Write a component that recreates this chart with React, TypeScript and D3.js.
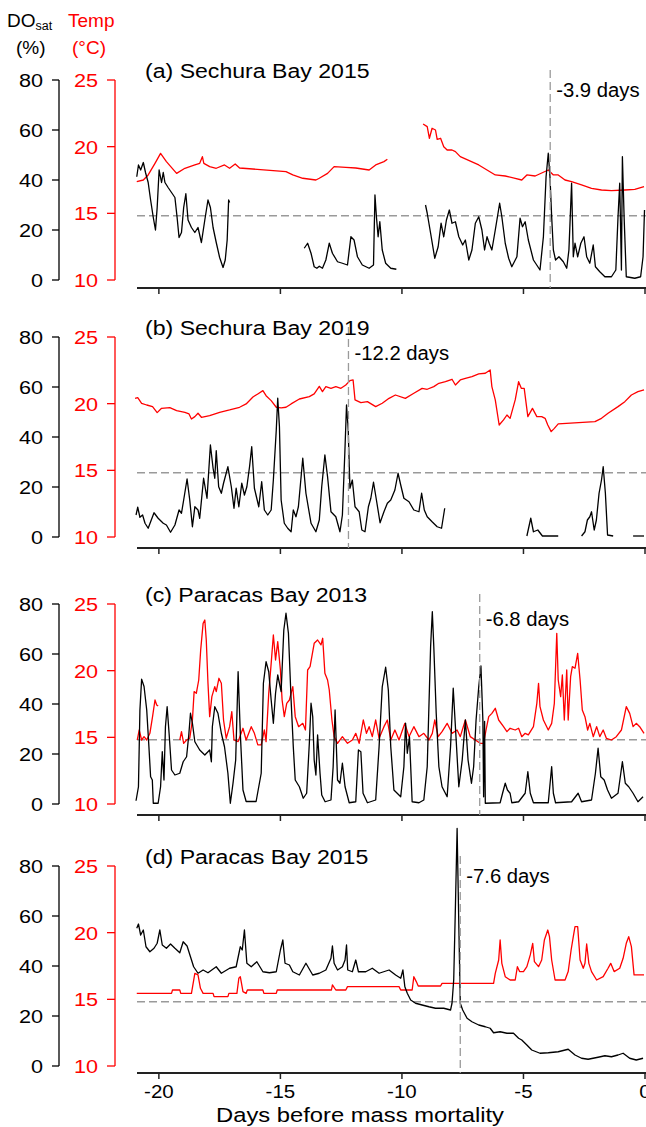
import * as d3 from "d3";

type Pt = [number, number];
type Seg = Pt[];

// ---- axis ticks / labels ----
const DAY_TICKS = [-20, -15, -10, -5, 0];
const DO_TICKS = [0, 20, 40, 60, 80];
const TEMP_TICKS = [10, 15, 20, 25];
const DO_THRESHOLD = 25.7;

const TITLES = [
  "(a) Sechura Bay 2015",
  "(b) Sechura Bay 2019",
  "(c) Paracas Bay 2013",
  "(d) Paracas Bay 2015",
];
const EVENT_DAYS = [-3.9, -12.2, -6.8, -7.6];
const EVENT_LABELS = ["-3.9 days", "-12.2 days", "-6.8 days", "-7.6 days"];

// ---- (a) Sechura Bay 2015 ----
const doA: Seg[] = [
  [[-20.91,41.3],[-20.84,46],[-20.75,44],[-20.64,47],[-20.55,43],[-20.44,39],[-20.34,32],[-20.23,25],[-20.14,20],[-20.07,29],[-19.99,44],[-19.89,39],[-19.82,43],[-19.75,39],[-19.62,37],[-19.48,35],[-19.34,33],[-19.25,25],[-19.17,17],[-19.07,19],[-18.98,29],[-18.89,34.5],[-18.8,24],[-18.66,21],[-18.52,19],[-18.39,21],[-18.25,15],[-18.11,24],[-17.98,32],[-17.88,29],[-17.77,21],[-17.64,15],[-17.5,9],[-17.36,5],[-17.27,8],[-17.19,16],[-17.13,32],[-17.09,31]],
  [[-14.02,12.7],[-13.88,14.7],[-13.74,10.7],[-13.61,5.3],[-13.5,4.7],[-13.4,5.5],[-13.27,4.7],[-13.13,8],[-12.99,14.7],[-12.86,10.7],[-12.65,7.3],[-12.45,6.7],[-12.24,6],[-12.1,17.3],[-11.97,16],[-11.83,9.3],[-11.63,6],[-11.35,4.7],[-11.17,6],[-11.11,34],[-11.05,25.3],[-10.98,17.3],[-10.91,23.3],[-10.81,12],[-10.67,6.7],[-10.46,4.7],[-10.23,4.3]],
  [[-9.03,30],[-8.96,26.7],[-8.82,18.7],[-8.65,8.7],[-8.51,13.3],[-8.39,22.7],[-8.28,17.3],[-8.17,24],[-8.05,28],[-7.94,22.7],[-7.8,23.3],[-7.66,17.3],[-7.5,14],[-7.39,16],[-7.25,8],[-7.12,12],[-6.98,22.7],[-6.84,25.3],[-6.71,20],[-6.6,12],[-6.5,17.3],[-6.41,14.7],[-6.3,12],[-6.16,20],[-5.98,30.7],[-5.89,25.3],[-5.75,14.7],[-5.61,8.7],[-5.48,5.3],[-5.27,9.3],[-5.14,24.7],[-5.04,21.3],[-4.93,23.3],[-4.8,16],[-4.59,8],[-4.32,4],[-4.18,17.3],[-4.07,41.3],[-3.98,50.7],[-3.91,41.3],[-3.84,25.3],[-3.77,12],[-3.68,8],[-3.54,9.3],[-3.36,7.3],[-3.22,4.7],[-3.13,12],[-3.02,38.7],[-2.95,9.3],[-2.88,14.7],[-2.77,9.3],[-2.64,14.7],[-2.51,17.3],[-2.4,9.3],[-2.27,6.7],[-2.13,14],[-2.04,5.3],[-1.86,3.3],[-1.65,1.3],[-1.38,1.3],[-1.2,4],[-1.11,25.3],[-1.04,38.7],[-0.97,4],[-0.93,49.3],[-0.86,25.3],[-0.77,1.3],[-0.42,0.7],[-0.18,1.3],[-0.08,9.3],[-0.02,28]],
];
const tempA: Seg[] = [
  [[-20.91,17.37],[-20.64,17.5],[-20.44,17.88],[-20.16,18.75],[-19.93,19.5],[-19.69,18.88],[-19.27,18.0],[-18.93,18.38],[-18.52,18.63],[-18.32,18.75],[-18.21,19.25],[-18.15,18.75],[-17.91,18.5],[-17.64,18.38],[-17.3,18.63],[-17.09,18.38],[-16.86,18.7],[-16.68,18.4],[-14.77,18.13],[-14.49,17.88],[-14.08,17.63],[-13.54,17.5],[-13.4,17.63],[-13.06,18.0],[-12.79,18.5],[-12.31,18.45],[-11.9,18.4],[-11.35,18.25],[-11.08,18.63],[-10.74,18.88],[-10.6,19.05]],
  [[-9.13,21.7],[-8.96,21.5],[-8.87,20.63],[-8.76,21.38],[-8.62,21.25],[-8.55,20.55],[-8.41,20.63],[-8.28,20.0],[-8.14,19.75],[-7.94,19.75],[-7.8,19.63],[-7.6,19.25],[-6.84,18.63],[-6.16,17.88],[-5.75,17.8],[-5.34,17.63],[-5.07,17.5],[-4.86,17.88],[-4.52,17.8],[-3.98,18.25],[-3.77,17.88],[-3.57,17.88],[-3.29,17.5],[-3.02,17.38],[-2.61,17.13],[-2.2,16.88],[-1.79,16.75],[-1.38,16.7],[-0.83,16.75],[-0.42,16.8],[-0.04,17.0]],
];

// ---- (b) Sechura Bay 2019 ----
const doB: Seg[] = [
  [[-20.94,8.8],[-20.87,11.9],[-20.78,7.9],[-20.67,8.8],[-20.57,5.5],[-20.44,3.5],[-20.2,9.7],[-20.03,7.5],[-19.82,5.5],[-19.69,4.8],[-19.52,1.9],[-19.34,4.8],[-19.17,10.8],[-19.07,9.5],[-18.98,14.8],[-18.84,23.2],[-18.73,14.8],[-18.62,4.1],[-18.52,12.1],[-18.39,10.8],[-18.32,7.5],[-18.16,23.5],[-18.02,15.5],[-17.88,36.8],[-17.77,27.5],[-17.7,23.5],[-17.64,34.5],[-17.54,20.1],[-17.43,17.5],[-17.34,21.5],[-17.16,28.1],[-17.02,20.1],[-16.91,11.5],[-16.82,19.5],[-16.71,12.1],[-16.59,21.5],[-16.48,16.8],[-16.38,20.1],[-16.27,28.1],[-16.18,36.1],[-16.07,19.5],[-15.89,12.1],[-15.77,22.1],[-15.66,10.8],[-15.52,8.8],[-15.38,10.8],[-15.29,22.8],[-15.17,42.8],[-15.11,55.5],[-15.04,44.1],[-14.97,14.8],[-14.84,5.5],[-14.7,3.5],[-14.56,2.1],[-14.47,10.8],[-14.36,8.1],[-14.26,12.1],[-14.08,31.5],[-13.95,17.5],[-13.74,5.5],[-13.54,2.1],[-13.4,6.8],[-13.3,20.1],[-13.17,32.8],[-13.06,24.1],[-12.92,10.1],[-12.72,8.1],[-12.55,2.1],[-12.45,8.8],[-12.35,33.5],[-12.28,52.8],[-12.21,42.8],[-12.14,19.5],[-12.04,22.8],[-11.93,12.1],[-11.76,10.1],[-11.65,2.8],[-11.52,2.1],[-11.38,12.1],[-11.28,15.5],[-11.17,21.9],[-11.05,14.8],[-10.9,5.7],[-10.74,10.1],[-10.6,13.5],[-10.46,14.8],[-10.29,18.8],[-10.16,25.5],[-10.05,20.8],[-9.92,15.5],[-9.71,14.1],[-9.51,10.8],[-9.3,10.1],[-9.19,17.5],[-9.08,10.8],[-8.96,8.1],[-8.76,6.1],[-8.55,4.1],[-8.37,3.5],[-8.24,11.5]],
  [[-4.86,0.4],[-4.7,7.5],[-4.59,2.1],[-4.41,2.8],[-4.22,0.4],[-3.57,0.4]],
  [[-2.61,0.4],[-2.47,2.1],[-2.37,6.8],[-2.27,8.1],[-2.2,10.1],[-2.09,2.8],[-2.0,6.8],[-1.89,17.5],[-1.79,22.8],[-1.72,28.1],[-1.63,17.5],[-1.54,0.8],[-1.31,0.4]],
  [[-0.49,0.4],[-0.04,0.4]],
];
const tempB: Seg[] = [
  [[-20.98,20.4],[-20.87,20.46],[-20.71,20.03],[-20.5,19.9],[-20.26,19.78],[-20.07,19.33],[-19.89,19.65],[-19.55,19.7],[-19.27,19.48],[-18.93,19.35],[-18.76,19.23],[-18.66,18.85],[-18.52,19.03],[-18.39,19.28],[-18.25,18.98],[-17.91,19.1],[-17.5,19.35],[-17.09,19.53],[-16.68,19.73],[-16.41,19.98],[-16.13,20.5],[-15.93,20.73],[-15.72,20.98],[-15.59,20.6],[-15.38,20.23],[-15.17,19.73],[-14.97,19.68],[-14.77,19.73],[-14.56,19.98],[-14.22,20.35],[-13.81,20.53],[-13.61,20.73],[-13.4,21.3],[-13.27,20.9],[-13.13,21.27],[-12.92,21.15],[-12.72,21.27],[-12.51,21.15],[-12.31,21.4],[-12.14,21.73],[-12.01,21.78],[-11.93,20.28],[-11.69,20.08],[-11.42,20.15],[-11.08,19.78],[-10.81,20.03],[-10.53,20.4],[-10.27,20.65],[-9.86,20.4],[-9.51,20.78],[-9.17,21.15],[-8.96,21.08],[-8.69,21.28],[-8.48,21.53],[-8.21,21.65],[-7.94,21.83],[-7.8,21.4],[-7.6,21.78],[-7.39,21.9],[-7.12,22.03],[-6.84,22.23],[-6.57,22.28],[-6.37,22.53],[-6.3,21.28],[-6.16,20.28],[-6.0,18.4],[-5.82,18.78],[-5.68,19.15],[-5.55,18.9],[-5.34,20.28],[-5.2,21.65],[-5.09,21.15],[-4.97,21.15],[-4.82,19.03],[-4.63,19.65],[-4.45,19.03],[-4.25,19.03],[-4.11,18.9],[-4.0,18.4],[-3.86,17.9],[-3.73,18.15],[-3.57,18.48],[-2.06,18.65],[-1.79,18.9],[-1.52,19.28],[-1.11,19.78],[-0.83,20.15],[-0.56,20.65],[-0.29,20.9],[-0.04,21.03]],
];

// ---- (c) Paracas Bay 2013 ----
const doC: Seg[] = [
  [[-20.94,1.3],[-20.84,6.9],[-20.78,37.6],[-20.71,49.9],[-20.61,47],[-20.5,37.6],[-20.41,22.9],[-20.34,10.9],[-20.27,9.6],[-20.23,0.3],[-20.03,0.3],[-19.93,6.9],[-19.86,20.9],[-19.79,9.6],[-19.73,30.9],[-19.66,38.9],[-19.58,28.3],[-19.48,13.6],[-19.34,11.6],[-19.14,12.3],[-19.0,16.9],[-18.86,18.9],[-18.77,27.6],[-18.7,36.3],[-18.62,32.3],[-18.52,24.9],[-18.32,21.6],[-18.11,19.6],[-17.91,21.6],[-17.84,16.9],[-17.8,30.9],[-17.7,38.9],[-17.57,36.3],[-17.43,28.3],[-17.3,22.9],[-17.16,12.3],[-17.06,0.3],[-16.95,8.3],[-16.84,17.6],[-16.74,52.9],[-16.65,28.3],[-16.54,5.6],[-16.41,1],[-16.0,1],[-15.79,12.3],[-15.7,48.3],[-15.59,56.9],[-15.48,52.9],[-15.38,41.6],[-15.29,32.3],[-15.2,44.3],[-15.11,51.6],[-14.97,45],[-14.86,69.6],[-14.77,76.3],[-14.67,68.3],[-14.56,41.6],[-14.47,22.9],[-14.39,9.6],[-14.22,6.9],[-14.06,2.3],[-13.92,4.3],[-13.81,24.3],[-13.74,40.3],[-13.67,34.9],[-13.61,17.6],[-13.54,11.6],[-13.47,27.6],[-13.37,12.3],[-13.3,3.6],[-13.16,0.9],[-12.92,1.6],[-12.83,14.9],[-12.75,37.6],[-12.65,9.6],[-12.55,8.3],[-12.45,16.3],[-12.34,6.9],[-12.17,0.5],[-11.9,0.9],[-11.79,21.6],[-11.69,20.9],[-11.6,4.3],[-11.42,0.5],[-11.08,1.6],[-10.94,22.9],[-10.81,46.9],[-10.67,54.7],[-10.56,45.6],[-10.46,22.9],[-10.33,5.6],[-10.05,2.9],[-9.92,14.9],[-9.85,32.3],[-9.78,20.3],[-9.69,26.9],[-9.58,0.9],[-9.3,0.5],[-9.1,1.6],[-8.96,14.9],[-8.82,63.1],[-8.75,76.9],[-8.69,63.1],[-8.59,36.3],[-8.48,14.9],[-8.35,6.9],[-8.14,2.9],[-8.0,22.9],[-7.89,46.3],[-7.8,30.9],[-7.66,6.9],[-7.52,17.6],[-7.39,33.6],[-7.28,17.6],[-7.14,8.3],[-7.05,14.9],[-6.95,33.6],[-6.84,46.9],[-6.75,55.2],[-6.67,33.6],[-6.64,2.9],[-6.6,33],[-6.57,0.3],[-5.96,0.5],[-5.86,4.3],[-5.75,8.3],[-5.66,5.6],[-5.55,4.3],[-5.48,0.5],[-5.2,0.9],[-4.93,4.3],[-4.82,12.9],[-4.72,4.3],[-4.59,0.5],[-3.98,0.5],[-3.84,14.9],[-3.77,4.3],[-3.68,0.5],[-3.02,0.9],[-2.75,4.3],[-2.61,0.9],[-2.2,1.6],[-2.04,12.3],[-1.93,22.3],[-1.82,10.9],[-1.68,9.6],[-1.54,5.6],[-1.38,2.3],[-1.11,4.3],[-0.93,16.9],[-0.81,8.3],[-0.67,6.9],[-0.49,4.3],[-0.29,0.9],[-0.08,2.9]],
];
const tempC: Seg[] = [
  [[-20.89,14.8],[-20.81,15.55],[-20.71,14.8],[-20.61,15.05],[-20.5,14.8],[-20.37,15.3],[-20.26,16.55],[-20.16,17.8],[-20.09,17.43],[-20.03,17.35]],
  [[-19.14,14.8],[-19.07,15.43],[-18.98,14.55],[-18.86,14.8],[-18.73,14.93],[-18.62,16.3],[-18.55,18.43],[-18.46,18.3],[-18.36,19.3],[-18.28,21.55],[-18.18,23.55],[-18.11,23.8],[-18.05,22.3],[-17.98,19.05],[-17.91,16.55],[-17.82,18.05],[-17.7,18.8],[-17.64,18.43],[-17.53,19.43],[-17.43,19.05],[-17.34,16.3],[-17.23,14.93],[-17.09,15.8],[-17.0,16.93],[-16.91,14.8],[-16.74,14.68],[-16.54,15.68],[-16.41,14.8],[-16.2,15.8],[-16.07,15.3],[-15.93,14.43],[-15.79,14.43],[-15.66,15.55],[-15.59,14.68],[-15.48,18.3],[-15.38,20.55],[-15.29,22.68],[-15.2,20.8],[-15.11,22.18],[-15.0,20.05],[-14.93,17.8],[-14.84,16.55],[-14.74,17.55],[-14.63,17.8],[-14.49,18.8],[-14.39,16.55],[-14.25,15.8],[-14.08,16.05],[-13.97,15.55],[-13.88,20.05],[-13.78,20.3],[-13.61,22.05],[-13.47,22.3],[-13.33,21.93],[-13.26,22.43],[-13.17,19.8],[-13.06,19.3],[-12.99,18.55],[-12.88,16.3],[-12.79,15.05],[-12.65,14.55],[-12.45,15.05],[-12.24,14.55],[-12.04,14.8],[-11.9,15.3],[-11.76,14.55],[-11.59,16.3],[-11.46,15.3],[-11.35,15.8],[-11.22,15.05],[-11.08,16.3],[-10.94,14.93],[-10.74,15.8],[-10.6,16.3],[-10.46,14.8],[-10.29,15.55],[-10.12,14.8],[-9.88,16.05],[-9.71,15.05],[-9.51,15.8],[-9.3,15.05],[-9.1,15.3],[-8.89,14.8],[-8.75,15.3],[-8.65,16.3],[-8.51,15.05],[-8.35,15.43],[-8.14,16.05],[-7.94,15.3],[-7.73,15.55],[-7.6,15.05],[-7.39,16.3],[-7.19,15.05],[-6.98,14.8],[-6.78,14.55],[-6.64,14.55],[-6.54,15.55],[-6.43,16.55],[-6.3,16.8],[-6.16,17.18],[-6.02,16.3],[-5.82,15.8],[-5.68,15.43],[-5.55,15.68],[-5.34,15.55],[-5.2,15.68],[-5.07,15.05],[-4.93,15.3],[-4.8,15.18],[-4.59,15.8],[-4.45,17.55],[-4.38,19.05],[-4.32,17.3],[-4.18,16.3],[-3.98,15.55],[-3.84,16.05],[-3.73,17.55],[-3.63,22.8],[-3.57,19.3],[-3.47,18.05],[-3.4,19.68],[-3.32,16.3],[-3.22,20.05],[-3.16,16.3],[-3.06,19.55],[-2.99,20.3],[-2.88,20.18],[-2.77,21.3],[-2.67,19.3],[-2.58,17.05],[-2.47,16.55],[-2.36,15.55],[-2.27,16.05],[-2.13,15.05],[-1.99,15.8],[-1.86,15.05],[-1.72,15.55],[-1.59,14.93],[-1.38,14.8],[-1.18,15.05],[-0.97,15.55],[-0.77,17.3],[-0.63,16.8],[-0.49,15.8],[-0.36,16.05],[-0.22,15.8],[-0.04,15.3]],
];

// ---- (d) Paracas Bay 2015 ----
const doD: Seg[] = [
  [[-20.91,55.1],[-20.84,56.8],[-20.75,52.4],[-20.64,54.4],[-20.53,47.7],[-20.37,45.7],[-20.2,47.1],[-20.07,49.1],[-19.96,54.4],[-19.86,48.4],[-19.69,47.1],[-19.52,48.8],[-19.34,47.1],[-19.14,45.3],[-19.0,49.7],[-18.84,48],[-18.7,43.7],[-18.57,39.7],[-18.39,37.1],[-18.18,38.4],[-17.98,37.3],[-17.64,39.7],[-17.43,37.1],[-17.09,39.1],[-16.82,39.7],[-16.65,47.7],[-16.57,46.4],[-16.48,54.4],[-16.38,41.1],[-16.2,39.7],[-15.97,41.7],[-15.72,37.7],[-15.45,37.3],[-15.17,37.7],[-15.0,46.4],[-14.9,50.4],[-14.81,41.1],[-14.63,40.4],[-14.49,37.7],[-14.22,36.4],[-13.95,41.1],[-13.67,36.4],[-13.4,37.1],[-13.13,38.4],[-12.92,43.1],[-12.86,48],[-12.79,41.1],[-12.65,38.4],[-12.45,39.7],[-12.34,42.4],[-12.28,48.4],[-12.23,38.4],[-12.04,37.7],[-11.9,42.4],[-11.79,37.7],[-11.49,37.7],[-11.22,39.1],[-10.94,37.1],[-10.53,38.4],[-10.26,36.4],[-10.05,35.1],[-9.96,38.4],[-9.88,31.7],[-9.78,29.1],[-9.64,26.4],[-9.44,25.1],[-9.17,24.4],[-8.89,23.7],[-8.62,23.1],[-8.28,23.1],[-8.0,22.4],[-7.94,25.1],[-7.87,34.4],[-7.8,63.7],[-7.73,95],[-7.66,56.4],[-7.6,25.1],[-7.5,22.4],[-7.32,19.1],[-7.12,17.7],[-6.84,16.4],[-6.57,15.7],[-6.37,15.1],[-6.23,13.3],[-5.96,13.7],[-5.68,13.1],[-5.41,13.1],[-5.2,11.1],[-5.07,10.4],[-4.86,8.4],[-4.66,6.4],[-4.32,5.1],[-3.98,5.3],[-3.57,5.7],[-3.16,6.7],[-2.88,4.4],[-2.61,3.1],[-2.34,2.7],[-1.93,3.5],[-1.65,4.1],[-1.38,3.7],[-1.11,4.4],[-0.9,5.1],[-0.63,3.1],[-0.36,2.4],[-0.08,3.1]],
];
const tempD: Seg[] = [
  [[-20.91,15.45],[-19.48,15.45],[-19.44,15.7],[-19.14,15.7],[-19.1,15.45],[-18.66,15.45],[-18.59,16.2],[-18.52,16.95],[-18.39,16.83],[-18.29,15.83],[-18.18,15.45],[-17.77,15.45],[-17.73,15.2],[-17.16,15.2],[-17.12,15.45],[-16.79,15.45],[-16.71,16.58],[-16.65,16.7],[-16.54,15.58],[-16.41,15.45],[-16.36,15.7],[-15.72,15.7],[-15.68,15.45],[-15.17,15.45],[-15.13,15.7],[-12.9,15.7],[-12.86,16.08],[-12.72,15.7],[-12.31,15.7],[-12.24,15.95],[-10.12,15.95],[-10.05,15.7],[-9.58,15.7],[-9.51,16.7],[-9.41,16.33],[-9.33,16.0],[-8.41,16.0],[-8.35,16.2],[-6.23,16.2],[-6.16,16.95],[-6.02,17.95],[-5.96,19.45],[-5.89,17.7],[-5.75,16.7],[-5.55,16.45],[-5.34,16.45],[-5.25,17.45],[-5.16,17.08],[-5.0,17.08],[-4.86,17.45],[-4.72,18.33],[-4.62,19.2],[-4.55,17.83],[-4.38,17.45],[-4.25,17.95],[-4.14,19.45],[-4.0,20.2],[-3.93,19.7],[-3.84,17.95],[-3.7,16.45],[-3.29,16.45],[-3.16,17.08],[-3.04,18.7],[-2.95,19.7],[-2.88,20.45],[-2.77,20.45],[-2.67,17.95],[-2.54,17.33],[-2.47,17.7],[-2.4,19.15],[-2.31,17.7],[-2.2,17.08],[-1.99,16.45],[-1.72,16.7],[-1.52,17.33],[-1.41,17.7],[-1.27,17.08],[-1.04,17.33],[-0.9,18.08],[-0.77,19.2],[-0.67,19.7],[-0.56,18.95],[-0.45,16.83],[-0.04,16.83]],
];

const DO_SERIES = [doA, doB, doC, doD];
const TEMP_SERIES = [tempA, tempB, tempC, tempD];

// ---- layout ----
const W = 646;
const H = 1127;
const PANEL_TOP = [80, 337, 604, 866];
const AXIS_Y = [288, 548, 815, 1073];
const PANEL_H = 200;
const DO_AXIS_X = 59;
const T_AXIS_X = 115;
const FONT = "'Liberation Sans', Arial, Helvetica, sans-serif";
const RED = "#ff0000";
const GREY = "#9a9a9a";

const x = d3.scaleLinear().domain([-20.9, 0]).range([137, 645]);

// text drawn slightly wider than tall, like the original figure
function Txt({ x, y, size = 19, anchor = "start", fill = "#000", sx = 1.14, children }: any) {
  return (
    <text
      transform={`translate(${x},${y}) scale(${sx},1)`}
      fontSize={size}
      textAnchor={anchor}
      fill={fill}
    >
      {children}
    </text>
  );
}

function Panel({ i }: { i: number }) {
  const top = PANEL_TOP[i];
  const bottom = top + PANEL_H;
  const axisY = AXIS_Y[i];
  const yDo = d3.scaleLinear().domain([0, 80]).range([bottom, top]);
  const yT = d3.scaleLinear().domain([10, 25]).range([bottom, top]);
  const lineDo = d3.line<Pt>().x((d) => x(d[0])).y((d) => yDo(d[1]));
  const lineT = d3.line<Pt>().x((d) => x(d[0])).y((d) => yT(d[1]));
  const ev = x(EVENT_DAYS[i]);

  return (
    <g>
      {/* DO axis */}
      <line x1={DO_AXIS_X} x2={DO_AXIS_X} y1={yDo(0)} y2={yDo(80)} stroke="#000" strokeWidth={1.3} />
      {DO_TICKS.map((t) => (
        <g key={"d" + t}>
          <line x1={DO_AXIS_X - 7} x2={DO_AXIS_X} y1={yDo(t)} y2={yDo(t)} stroke="#000" strokeWidth={1.3} />
          <Txt x={43} y={yDo(t) + 7} anchor="end">{t}</Txt>
        </g>
      ))}
      {/* Temp axis */}
      <line x1={T_AXIS_X} x2={T_AXIS_X} y1={yT(10)} y2={yT(25)} stroke={RED} strokeWidth={1.3} />
      {TEMP_TICKS.map((t) => (
        <g key={"t" + t}>
          <line x1={T_AXIS_X - 8} x2={T_AXIS_X} y1={yT(t)} y2={yT(t)} stroke={RED} strokeWidth={1.3} />
          <Txt x={98} y={yT(t) + 7} anchor="end" fill={RED}>{t}</Txt>
        </g>
      ))}

      {/* x axis */}
      <line x1={137} x2={W} y1={axisY} y2={axisY} stroke="#222" strokeWidth={2} />
      {DAY_TICKS.map((t) => (
        <g key={"x" + t}>
          <line x1={x(t)} x2={x(t)} y1={axisY} y2={axisY + 6} stroke="#222" strokeWidth={1.5} />
          {i === 3 && (
            <Txt x={x(t)} y={axisY + 25} anchor="middle" size={18}>{t}</Txt>
          )}
        </g>
      ))}

      {/* threshold */}
      <line x1={137} x2={W} y1={yDo(DO_THRESHOLD)} y2={yDo(DO_THRESHOLD)} stroke={GREY} strokeWidth={1.3} strokeDasharray="8,4" />

      {/* series */}
      {TEMP_SERIES[i].map((s, k) => (
        <path key={"r" + k} d={lineT(s) ?? ""} fill="none" stroke={RED} strokeWidth={1.3} strokeLinejoin="round" />
      ))}
      {DO_SERIES[i].map((s, k) => (
        <path key={"b" + k} d={lineDo(s) ?? ""} fill="none" stroke="#000" strokeWidth={1.3} strokeLinejoin="round" />
      ))}

      {/* event marker */}
      <line x1={ev} x2={ev} y1={top - 10} y2={axisY} stroke={GREY} strokeWidth={1.3} strokeDasharray="8,4" />
      <Txt x={ev + 6} y={top + 17 + (i === 1 ? 6 : i === 2 ? 5 : 0)} size={19.5} sx={1.04}>{EVENT_LABELS[i]}</Txt>

      <Txt x={145} y={top - 2} size={21} sx={1.1}>{TITLES[i]}</Txt>
    </g>
  );
}

export default function App() {
  return (
    <svg
      width={W}
      height={H}
      style={{ position: "absolute", left: 0, top: 0, background: "#fff" }}
      fontFamily={FONT}
    >
      <rect width={W} height={H} fill="#fff" />
      <text x={7} y={27} fontSize={19}>
        DO<tspan fontSize={12.5} dy={3}>sat</tspan>
      </text>
      <text x={68} y={27} fontSize={19} fill={RED}>Temp</text>
      <text x={16} y={54} fontSize={19}>(%)</text>
      <text x={72} y={54} fontSize={19} fill={RED}>(°C)</text>
      {[0, 1, 2, 3].map((i) => (
        <Panel key={i} i={i} />
      ))}
      <Txt x={360} y={1122} size={20.5} anchor="middle" sx={1.16}>
        Days before mass mortality
      </Txt>
    </svg>
  );
}
